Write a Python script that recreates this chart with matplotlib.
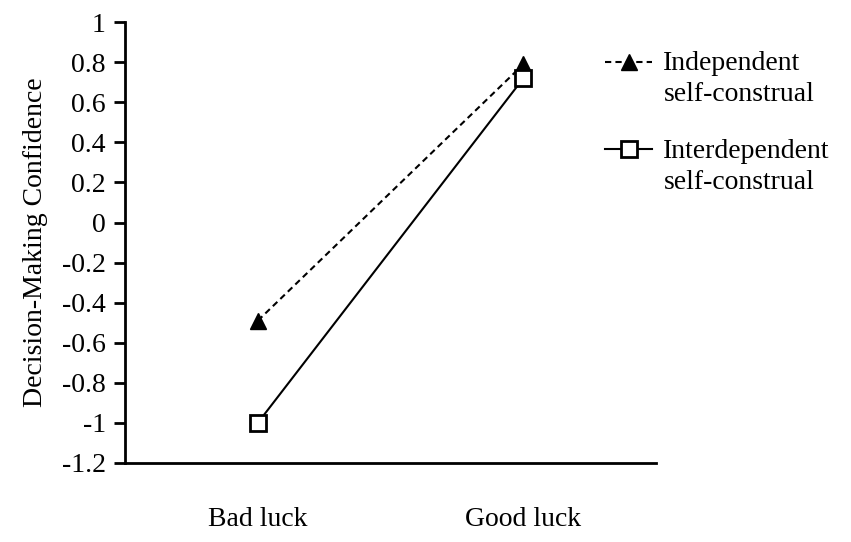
import matplotlib.pyplot as plt
from matplotlib.legend_handler import HandlerLine2D

plt.rcParams['font.family'] = ['Liberation Serif', 'DejaVu Serif']

# Data
conditions = ['Bad luck', 'Good luck']
independent = [-0.49, 0.79]
interdependent = [-1.0, 0.72]
y_ticks = [-1.2, -1.0, -0.8, -0.6, -0.4, -0.2, 0.0, 0.2, 0.4, 0.6, 0.8, 1.0]
y_tick_labels = ['-1.2', '-1', '-0.8', '-0.6', '-0.4', '-0.2', '0', '0.2', '0.4', '0.6', '0.8', '1']


class TopAlignedHandler(HandlerLine2D):
    # put the legend symbol next to the first line of a two-line label
    def __init__(self, shift=12.5, **kw):
        super().__init__(**kw)
        self.shift = shift

    def create_artists(self, legend, orig_handle, xdescent, ydescent,
                       width, height, fontsize, trans):
        return super().create_artists(legend, orig_handle, xdescent,
                                      ydescent - 2 * self.shift, width, height,
                                      fontsize, trans)


fig = plt.figure(figsize=(8.51, 5.42), dpi=100)
ax = fig.add_axes([0.147, 0.146, 0.624, 0.813])

x = list(range(len(conditions)))
l1, = ax.plot(x, independent, linestyle='--', color='black', lw=1.5,
              marker='^', markersize=12, markerfacecolor='black', markeredgecolor='black',
              dashes=(3, 2), label='Independent\nself-construal')
l2, = ax.plot(x, interdependent, linestyle='-', color='black', lw=1.5,
              marker='s', markersize=11, markerfacecolor='white', markeredgecolor='black',
              markeredgewidth=2, label='Interdependent\nself-construal')

ax.set_xlim(-0.5, 1.5)
ax.set_ylim(-1.2, 1.0)
ax.set_xticks(x)
ax.set_xticklabels(conditions, fontsize=20)
ax.set_yticks(y_ticks)
ax.set_yticklabels(y_tick_labels, fontsize=20)
ax.tick_params(axis='x', length=0, pad=32)
ax.tick_params(axis='y', length=8, width=2, pad=6)

for side in ['top', 'right']:
    ax.spines[side].set_visible(False)
for side in ['left', 'bottom']:
    ax.spines[side].set_linewidth(2)

ax.set_ylabel('Decision-Making Confidence', fontsize=20, labelpad=10)

leg = ax.legend(loc='upper left', bbox_to_anchor=(0.711, 0.905), bbox_transform=fig.transFigure,
                frameon=False, fontsize=20, handlelength=1.7, handletextpad=0.4,
                labelspacing=1.15, borderpad=0, borderaxespad=0,
                handler_map={l1: TopAlignedHandler(), l2: TopAlignedHandler()})
for t in leg.get_texts():
    t.set_linespacing(1.3)

fig.savefig('out.png', dpi=100)
